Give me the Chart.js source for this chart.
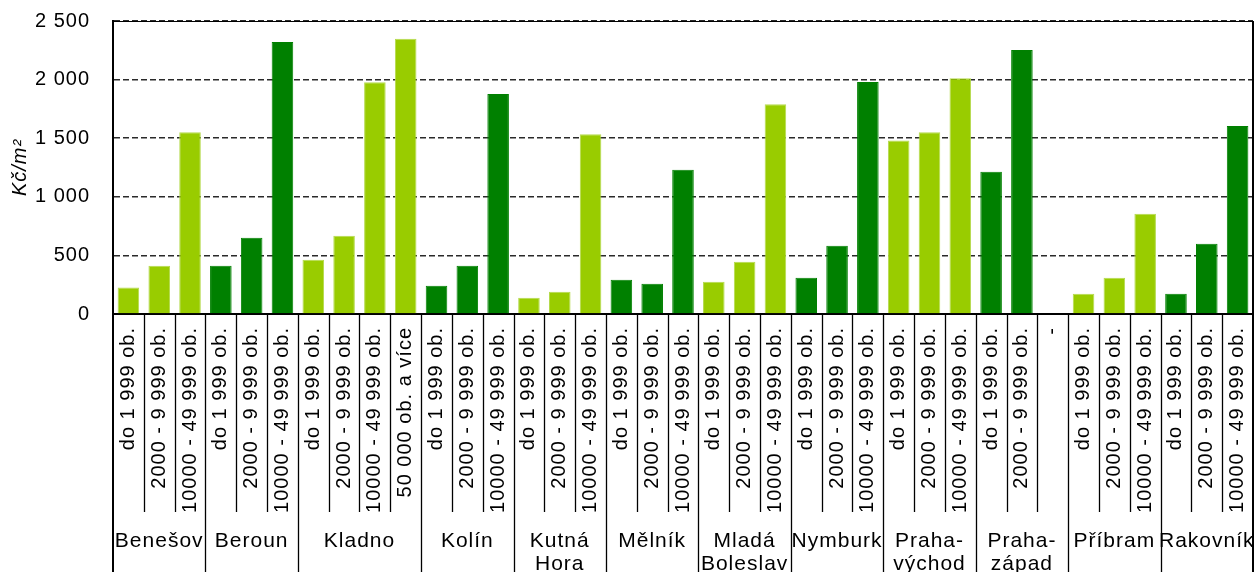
<!DOCTYPE html>
<html>
<head>
<meta charset="utf-8">
<script src="https://cdn.jsdelivr.net/npm/chart.js@4"></script>
<style>
  html, body { margin: 0; padding: 0; background: #fff; }
  canvas { display: block; }
</style>
</head>
<body>
<canvas id="c" width="1257" height="572"></canvas>
<script>
// Districts of the Central Bohemian Region (second label row)
const districts = [
  ['Benešov'], ['Beroun'], ['Kladno'], ['Kolín'], ['Kutná', 'Hora'], ['Mělník'],
  ['Mladá', 'Boleslav'], ['Nymburk'], ['Praha-', 'východ'], ['Praha-', 'západ'],
  ['Příbram'], ['Rakovník']
];
// How many municipality size bands belong to each district
const barsPerDistrict = [3, 3, 4, 3, 3, 3, 3, 3, 3, 3, 3, 3];

// Municipality size bands (first label row, one per bar)
const sizeBands = [
  'do 1 999 ob.', '2000 - 9 999 ob.', '10000 - 49 999 ob.',
  'do 1 999 ob.', '2000 - 9 999 ob.', '10000 - 49 999 ob.',
  'do 1 999 ob.', '2000 - 9 999 ob.', '10000 - 49 999 ob.', '50 000 ob. a více',
  'do 1 999 ob.', '2000 - 9 999 ob.', '10000 - 49 999 ob.',
  'do 1 999 ob.', '2000 - 9 999 ob.', '10000 - 49 999 ob.',
  'do 1 999 ob.', '2000 - 9 999 ob.', '10000 - 49 999 ob.',
  'do 1 999 ob.', '2000 - 9 999 ob.', '10000 - 49 999 ob.',
  'do 1 999 ob.', '2000 - 9 999 ob.', '10000 - 49 999 ob.',
  'do 1 999 ob.', '2000 - 9 999 ob.', '10000 - 49 999 ob.',
  'do 1 999 ob.', '2000 - 9 999 ob.', '-',
  'do 1 999 ob.', '2000 - 9 999 ob.', '10000 - 49 999 ob.',
  'do 1 999 ob.', '2000 - 9 999 ob.', '10000 - 49 999 ob.'
];

// Average price of building land, Kč per m²
const prices = [
  227, 412, 1551,
  412, 650, 2321,
  463, 667, 1977, 2349,
  241, 412, 1878,
  139, 190, 1534,
  292, 258, 1230,
  275, 446, 1790,
  309, 582, 1980,
  1480, 1551, 2011,
  1213, 2253, null,
  173, 310, 855,
  173, 599, 1605
];

const yTickLabels = ['0', '500', '1 000', '1 500', '2 000', '2 500'];

const LIGHT = '#99cc00';
const LIGHT_EDGE = '#b5da4e';
const DARK = '#008000';
const FAMILY = '"Liberation Sans", Arial, sans-serif';
const FONT_SIZE = 20;
const GROUP_FONT_SIZE = 21;
const SPACING = '1px';

// alternate the colour district by district
const barColors = [];
const barEdges = [];
barsPerDistrict.forEach((n, d) => {
  for (let k = 0; k < n; k++) {
    barColors.push(d % 2 ? DARK : LIGHT);
    barEdges.push(d % 2 ? DARK : LIGHT_EDGE);
  }
});

// slight tracking for every text drawn on the canvas
const letterSpacing = {
  id: 'letterSpacing',
  beforeUpdate(chart) { chart.ctx.letterSpacing = SPACING; },
  beforeLayout(chart) { chart.ctx.letterSpacing = SPACING; },
  beforeDraw(chart) { chart.ctx.letterSpacing = SPACING; }
};

// plot frame, category separators and the district row
const frame = {
  id: 'frame',
  afterDraw(chart) {
    const { ctx, chartArea: a, scales: { x } } = chart;
    const H = chart.height;
    const line = (x1, y1, x2, y2) => { ctx.beginPath(); ctx.moveTo(x1, y1); ctx.lineTo(x2, y2); ctx.stroke(); };
    ctx.save();
    ctx.strokeStyle = '#000';
    ctx.lineWidth = 1;
    line(a.left, a.top + 0.5, a.right, a.top + 0.5);
    ctx.lineWidth = 2;
    line(a.right, a.top, a.right, H);
    line(a.left, a.bottom, a.left, H);

    const groupEnds = new Set();
    let acc = 0;
    barsPerDistrict.forEach(n => { acc += n; groupEnds.add(acc); });
    ctx.lineWidth = 1.3;
    for (let i = 1; i < prices.length; i++) {
      const px = Math.round(x.getPixelForValue(i - 0.5)) + 0.5;
      line(px, a.bottom, px, groupEnds.has(i) ? H : a.bottom + 198);
    }

    ctx.fillStyle = '#000';
    ctx.font = GROUP_FONT_SIZE + 'px ' + FAMILY;
    ctx.letterSpacing = '1px';
    ctx.textAlign = 'center';
    ctx.textBaseline = 'middle';
    let start = 0;
    districts.forEach((rows, d) => {
      const n = barsPerDistrict[d];
      const cx = (x.getPixelForValue(start - 0.5) + x.getPixelForValue(start + n - 0.5)) / 2;
      rows.forEach((t, j) => ctx.fillText(t, cx, 541 + j * 23));
      start += n;
    });
    ctx.restore();
  }
};

new Chart(document.getElementById('c'), {
  type: 'bar',
  data: {
    labels: sizeBands,
    datasets: [{
      data: prices,
      backgroundColor: barColors,
      borderColor: barEdges,
      borderWidth: 1,
      barPercentage: 0.7,
      categoryPercentage: 1.0
    }]
  },
  options: {
    responsive: false,
    animation: false,
    devicePixelRatio: 1,
    layout: { padding: { top: 21, right: 4, left: 0, bottom: 0 } },
    plugins: { legend: { display: false }, tooltip: { enabled: false } },
    scales: {
      x: {
        grid: { display: false, offset: true },
        border: { display: true, color: '#000', width: 2 },
        ticks: {
          autoSkip: false, minRotation: 90, maxRotation: 90, padding: 5,
          color: '#000', font: { family: FAMILY, size: FONT_SIZE }
        },
        afterFit(s) {
          s.height = 258;
          s.paddingLeft = 0; s.paddingRight = 0; s.paddingTop = 0; s.paddingBottom = 0;
        }
      },
      y: {
        min: 0, max: 2500,
        ticks: {
          stepSize: 500, padding: 23, color: '#000',
          font: { family: FAMILY, size: FONT_SIZE },
          callback: v => yTickLabels[v / 500]
        },
        grid: { color: '#2a2a2a', lineWidth: 1.6, drawTicks: false },
        border: { display: true, color: '#000', width: 2, dash: [6, 3] },
        title: {
          display: true, text: 'Kč/m²', color: '#000',
          font: { family: FAMILY, size: FONT_SIZE, style: 'italic' },
          padding: { top: 8, bottom: 0 }
        },
        afterFit(s) {
          s.width = 113;
          s.paddingLeft = 0; s.paddingRight = 0; s.paddingTop = 0; s.paddingBottom = 0;
        }
      }
    }
  },
  plugins: [letterSpacing, frame]
});
</script>
</body>
</html>
